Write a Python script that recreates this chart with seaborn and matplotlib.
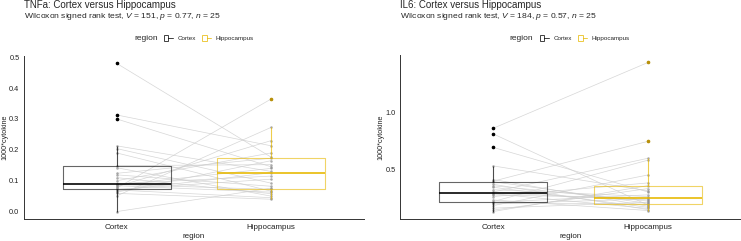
import numpy as np
import pandas as pd
import matplotlib
matplotlib.use("Agg")
import matplotlib.pyplot as plt
import seaborn as sns
from matplotlib.patches import Patch
from matplotlib.lines import Line2D
from matplotlib.legend_handler import HandlerTuple

regions = ["Cortex", "Hippocampus"]
box_colors = {"Cortex": "#000000", "Hippocampus": "#E7B800"}
outlier_colors = ["#000000", "#B8900A"]

# paired samples, same order in both lists
tnfa_cortex = [0.480, 0.313, 0.300, 0.213, 0.204, 0.190, 0.149, 0.142, 0.124, 0.119,
               0.110, 0.100, 0.090, 0.088, 0.086, 0.084, 0.081, 0.076, 0.072, 0.070,
               0.068, 0.063, 0.059, 0.051, 0.000]
tnfa_hippo = [0.176, 0.213, 0.145, 0.130, 0.092, 0.066, 0.152, 0.050, 0.173, 0.082,
              0.058, 0.190, 0.115, 0.072, 0.140, 0.063, 0.230, 0.365, 0.105, 0.045,
              0.126, 0.165, 0.040, 0.273, 0.076]

il6_cortex = [0.860, 0.812, 0.693, 0.530, 0.410, 0.395, 0.391, 0.368, 0.355, 0.342,
              0.320, 0.300, 0.295, 0.285, 0.274, 0.260, 0.230, 0.216, 0.210, 0.205,
              0.195, 0.180, 0.158, 0.140, 0.128]
il6_hippo = [1.440, 0.185, 0.300, 0.310, 0.175, 0.746, 0.200, 0.145, 0.220, 0.165,
             0.260, 0.597, 0.230, 0.155, 0.246, 0.380, 0.137, 0.580, 0.275, 0.193,
             0.240, 0.450, 0.210, 0.330, 0.356]

titles = ["TNFa: Cortex versus Hippocampus", "IL6: Cortex versus Hippocampus"]
subtitles = [r"Wilcoxon signed rank test, $V$ = 151, $p$ = 0.77, $n$ = 25",
             r"Wilcoxon signed rank test, $V$ = 184, $p$ = 0.57, $n$ = 25"]
yticks = [[0.0, 0.1, 0.2, 0.3, 0.4, 0.5], [0.5, 1.0]]

sns.set_style("white")
plt.rcParams["font.family"] = ["Liberation Sans", "DejaVu Sans"]
plt.rcParams["mathtext.fontset"] = "custom"
plt.rcParams["mathtext.it"] = "Liberation Sans:italic"
plt.rcParams["mathtext.rm"] = "Liberation Sans"

W, H = 741, 241
fig = plt.figure(figsize=(W / 100, H / 100), dpi=100)

# pixel boxes of the two panels: left, top, right, bottom
boxes = [(24, 56, 364, 219), (400, 55, 741, 219)]
leg_pos = [(134, 209), (509, 585)]
ylab_x = [8.5, 384]


def draw_panel(ax, cortex, hippo):
    n = len(cortex)
    df = pd.DataFrame({
        "id": list(range(n)) * 2,
        "region": ["Cortex"] * n + ["Hippocampus"] * n,
        "cytokine": list(cortex) + list(hippo),
    })
    df["pos"] = df["region"].map({r: i for i, r in enumerate(regions)})

    sns.boxplot(data=df, x="region", y="cytokine", hue="region", order=regions,
                hue_order=regions, palette=box_colors, fill=False, width=0.7,
                linewidth=0.8, legend=False, ax=ax, zorder=3,
                boxprops=dict(alpha=0.6), whiskerprops=dict(alpha=0.7),
                capprops=dict(alpha=0), medianprops=dict(linewidth=1.3, alpha=0.9),
                flierprops=dict(marker="o", markersize=1.6))
    # solid outlier dots
    fl = [ln for ln in ax.lines if ln.get_marker() == "o"]
    for ln, c in zip(fl, outlier_colors):
        ln.set_markerfacecolor(c)
        ln.set_markeredgecolor(c)
        ln.set_alpha(1)
    sns.lineplot(data=df, x="pos", y="cytokine", units="id", estimator=None,
                 color="#cccccc", lw=0.5, alpha=0.8, ax=ax, zorder=1)
    sns.stripplot(data=df, x="region", y="cytokine", order=regions, jitter=False,
                  color="#8a8a8a", size=1.8, alpha=0.7, ax=ax, zorder=2)


for k, (cortex, hippo) in enumerate([(tnfa_cortex, tnfa_hippo), (il6_cortex, il6_hippo)]):
    l, t, r, b = boxes[k]
    ax = fig.add_axes([l / W, 1 - b / H, (r - l) / W, (b - t) / H])
    draw_panel(ax, cortex, hippo)

    vals = np.array(cortex + hippo)
    pad = 0.05 * (vals.max() - vals.min())
    ax.set_ylim(vals.min() - pad, vals.max() + pad)
    ax.set_xlim(-0.6, 1.6)
    ax.set_yticks(yticks[k])
    ax.set_yticklabels([f"{v:.1f}" for v in yticks[k]])

    for s in ["top", "right"]:
        ax.spines[s].set_visible(False)
    for s in ["left", "bottom"]:
        ax.spines[s].set_color("#333333")
        ax.spines[s].set_linewidth(0.7)
    ax.tick_params(axis="both", direction="out", length=2.5, width=0.6,
                   color="#333333", labelcolor="#222222", pad=0.8)
    ax.tick_params(axis="x", labelsize=5.8, pad=1.2)
    ax.tick_params(axis="y", labelsize=5.3)
    ax.set_xlabel("region", fontsize=5.8, labelpad=1.5, color="#222222")
    ax.set_ylabel("1000*cytokine", fontsize=5.2, color="#222222")
    ax.yaxis.set_label_coords((ylab_x[k] - l) / (r - l), 0.5)

    fig.text(l / W, 1 - 5 / H, titles[k], fontsize=7, va="center", ha="left")
    fig.text(l / W, 1 - 16.5 / H, subtitles[k], fontsize=6.1, va="center", ha="left")

    # legend
    lx, cx = leg_pos[k]
    fig.text(lx / W, 1 - 38 / H, "region", fontsize=6, va="center", ha="left")
    handles = [(Patch(facecolor="none", edgecolor=box_colors[rg], lw=0.7, alpha=0.75),
                Line2D([], [], color=box_colors[rg], lw=0.7, alpha=0.75)) for rg in regions]
    fig.legend(handles, regions, handler_map={tuple: HandlerTuple(ndivide=None)},
               loc="center", bbox_to_anchor=(cx / W, 1 - 38 / H), ncol=2,
               frameon=False, fontsize=4.5, handlelength=1.4, handleheight=1.0,
               handletextpad=0.8, columnspacing=1.0, borderpad=0, borderaxespad=0)

fig.savefig("out.png", dpi=100)
